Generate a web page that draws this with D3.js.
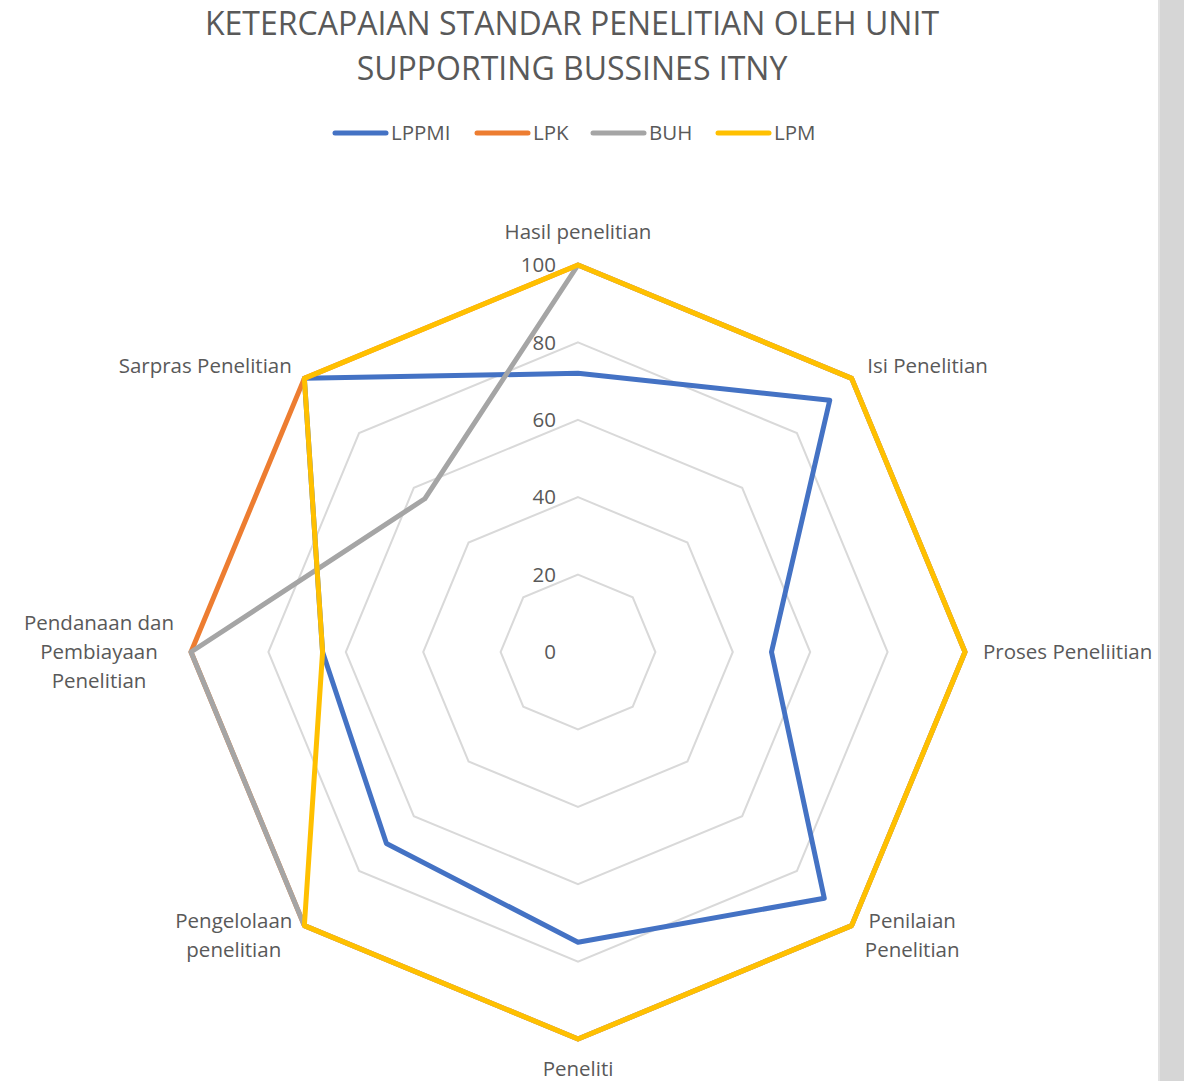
<!DOCTYPE html>
<html>
<head>
<meta charset="utf-8">
<script src="https://cdn.jsdelivr.net/npm/d3@7"></script>
<style>
  html, body { margin: 0; padding: 0; background: #fff; }
  svg { display: block; }
  text { font-family: "Open Sans", "Noto Sans", sans-serif; fill: #595959; }
</style>
</head>
<body>
<div id="chart"></div>
<script>
// <-- Data -->
const categories = [
  "Hasil penelitian", "Isi Penelitian", "Proses Peneliitian", "Penilaian Penelitian",
  "Peneliti", "Pengelolaan penelitian", "Pendanaan dan Pembiayaan Penelitian", "Sarpras Penelitian"
];
const seriesNames = ["LPPMI", "LPK", "BUH", "LPM"];
const lppmi = [72, 92, 50, 90, 75, 70, 66, 100];
const lpk   = [100, 100, 100, 100, 100, 100, 100, 100];
const buh   = [100, 100, 100, 100, 100, 100, 100, 56];
const lpm   = [100, 100, 100, 100, 100, 100, 66, 100];
const ticks = [0, 20, 40, 60, 80, 100];
const colors = ["#4472C4", "#ED7D31", "#A5A5A5", "#FFC000"];

// label lines (wrapped like the original)
const labelLines = [
  ["Hasil penelitian"], ["Isi Penelitian"], ["Proses Peneliitian"], ["Penilaian", "Penelitian"],
  ["Peneliti"], ["Pengelolaan", "penelitian"], ["Pendanaan dan", "Pembiayaan", "Penelitian"], ["Sarpras Penelitian"]
];

;(function(){
  const width = 1184, height = 1081;
  const cx = 578, cy = 652, R = 387;

  const svg = d3.select("#chart").append("svg")
    .attr("width", width).attr("height", height);

  // grey strip on the right edge
  svg.append("rect").attr("x", 1158).attr("y", 0).attr("width", 26).attr("height", height).attr("fill", "#d6d6d6");
  svg.append("rect").attr("x", 1158).attr("y", 0).attr("width", 2).attr("height", height).attr("fill", "#e2e2e2");

  const r = d3.scaleLinear().domain([0, 100]).range([0, R]);
  const angle = d3.scaleLinear().domain([0, categories.length]).range([0, 2 * Math.PI]);

  const g = svg.append("g").attr("transform", "translate(" + cx + "," + cy + ")");

  const radial = d3.lineRadial()
    .angle((d, i) => angle(i))
    .radius(d => r(d))
    .curve(d3.curveLinearClosed);

  // grid rings
  g.selectAll(".ring")
    .data(ticks.filter(t => t > 0))
    .enter().append("path")
    .attr("d", t => radial(categories.map(() => t)))
    .attr("fill", "none")
    .attr("stroke", "#d9d9d9")
    .attr("stroke-width", 2);

  // tick labels
  g.selectAll(".tick")
    .data(ticks)
    .enter().append("text")
    .attr("x", -22)
    .attr("y", t => -r(t))
    .attr("dy", "0.35em")
    .attr("text-anchor", "end")
    .attr("font-size", 20.5)
    .text(t => t);

  // series
  const all = [lppmi, lpk, buh, lpm];
  g.selectAll(".series")
    .data(all)
    .enter().append("path")
    .attr("d", d => radial(d))
    .attr("fill", "none")
    .attr("stroke", (d, i) => colors[i])
    .attr("stroke-width", 5)
    .attr("stroke-linejoin", "round");

  // category labels
  const lineH = 29;
  categories.forEach(function(c, i){
    const a = angle(i);
    const lr = R + 22;
    let x = Math.sin(a) * lr, y = -Math.cos(a) * lr;
    const s = Math.sin(a);
    let anchor = Math.abs(s) < 0.01 ? "middle" : (s > 0 ? "start" : "end");
    const lines = labelLines[i];
    let y0 = y - (lines.length - 1) * lineH / 2;
    if (Math.abs(s) < 0.01) {
      y0 = Math.cos(a) > 0 ? -R - 33 : R + 30;
    }
    if (i === 1 || i === 7) y0 = y + 3;
    if (i === 3 || i === 5) y0 = y - 20;
    if (i === 2) x = x - 4;
    if (i === 7) x = x + 3;
    if (i === 6) { anchor = "middle"; x = x - 70; }
    if (i === 3) { anchor = "middle"; x = x + 45; }
    if (i === 5) { anchor = "middle"; x = x - 55; }
    const t = g.append("text")
      .attr("text-anchor", anchor)
      .attr("font-size", 20.5);
    lines.forEach(function(l, k){
      t.append("tspan").attr("x", x).attr("y", y0 + k * lineH).attr("dy", "0.35em").text(l);
    });
  });

  // title
  svg.append("text").attr("x", 572).attr("y", 24).attr("dy", "0.35em")
    .attr("text-anchor", "middle").attr("font-size", 32)
    .text("KETERCAPAIAN STANDAR PENELITIAN OLEH UNIT");
  svg.append("text").attr("x", 572).attr("y", 69).attr("dy", "0.35em")
    .attr("text-anchor", "middle").attr("font-size", 32)
    .text("SUPPORTING BUSSINES ITNY");

  // legend
  const legendX = [333, 475, 591, 716];
  const leg = svg.selectAll(".legend")
    .data(seriesNames)
    .enter().append("g")
    .attr("transform", (d, i) => "translate(" + legendX[i] + ",133)");
  leg.append("line")
    .attr("x1", 2).attr("x2", 53).attr("y1", 0).attr("y2", 0)
    .attr("stroke", (d, i) => colors[i])
    .attr("stroke-width", 5)
    .attr("stroke-linecap", "round");
  leg.append("text")
    .attr("x", 58).attr("dy", "0.35em")
    .attr("font-size", 20.5)
    .text(d => d);
})();
</script>
</body>
</html>
